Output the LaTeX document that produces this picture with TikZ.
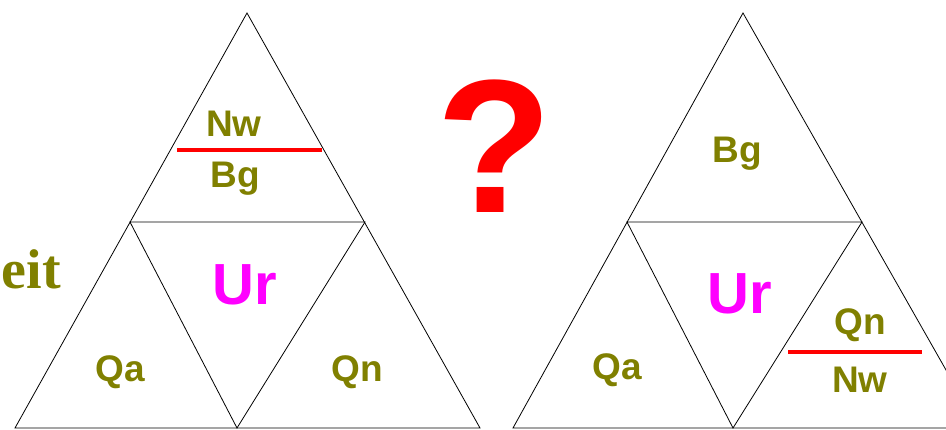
\documentclass[tikz,border=0pt]{standalone}
\usepackage{fontspec}
\usepackage{tikz}
\usetikzlibrary{positioning, calc}
\setmainfont{Liberation Sans}
\newfontfamily\serifbold{Liberation Serif}
\definecolor{lblOlive}{HTML}{808000}
\definecolor{urMagenta}{HTML}{FF00FF}
\definecolor{cutRed}{HTML}{FF0000}

\begin{document}
\begin{tikzpicture}[
    x=1pt, y=-1pt,
    edge/.style={draw=black, line width=0.8pt},
    lbl/.style={text=lblOlive, font=\fontsize{37}{37}\selectfont\bfseries, anchor=base, inner sep=0pt},
    core/.style={text=urMagenta, font=\fontsize{58}{58}\selectfont\bfseries, anchor=base, inner sep=0pt},
    cut/.style={draw=cutRed, line width=3.5pt},
]
    \useasboundingbox (0,0) rectangle (946,430);
    \clip (0,0) rectangle (946,430);

    % left triangle
    \coordinate (a1) at (247,13);
    \coordinate (l1) at (130,222);
    \coordinate (r1) at (365,222);
    \coordinate (bl1) at (15,428);
    \coordinate (bm1) at (237,428);
    \coordinate (br1) at (480,428);
    \draw[edge] (a1) -- (bl1) -- (br1) -- cycle;
    \draw[edge] (l1) -- (r1) -- (bm1) -- cycle;

    % right triangle
    \coordinate (a2) at (743,13);
    \coordinate (l2) at (627,222);
    \coordinate (r2) at (862,222);
    \coordinate (bl2) at (513,428);
    \coordinate (bm2) at (733,428);
    \coordinate (br2) at (979,428);
    \draw[edge] (a2) -- (bl2) -- (br2) -- cycle;
    \draw[edge] (l2) -- (r2) -- (bm2) -- cycle;

    % labels left
    \node[lbl] (nwL) at (234,137) {Nw};
    \node[lbl] (bgL) at (235,188) {Bg};
    \node[core] (urL) at (245,305) {Ur};
    \node[lbl] (qaL) at (120,382) {Qa};
    \node[lbl] (qnL) at (357,382) {Qn};
    \coordinate (cutL1) at (177,150);
    \coordinate (cutL2) at (322,150);
    \draw[cut] (cutL1) -- (cutL2);

    % labels right
    \node[lbl] (bgR) at (737,163) {Bg};
    \node[core] (urR) at (740,314) {Ur};
    \node[lbl] (qaR) at (617,380) {Qa};
    \node[lbl] (qnR) at (860,335) {Qn};
    \node[lbl] (nwR) at (860,393) {Nw};
    \coordinate (cutR1) at (788,352);
    \coordinate (cutR2) at (922,352);
    \draw[cut] (cutR1) -- (cutR2);

    % side word and question mark
    \node[text=lblOlive, font=\serifbold\fontsize{56}{56}\selectfont\bfseries, anchor=base east, inner sep=0pt] (eit) at (61,289) {eit};
    \node[text=cutRed, font=\fontsize{190}{190}\selectfont\bfseries, anchor=base, inner sep=0pt] (qmark) at (495,213) {?};
\end{tikzpicture}
\end{document}
